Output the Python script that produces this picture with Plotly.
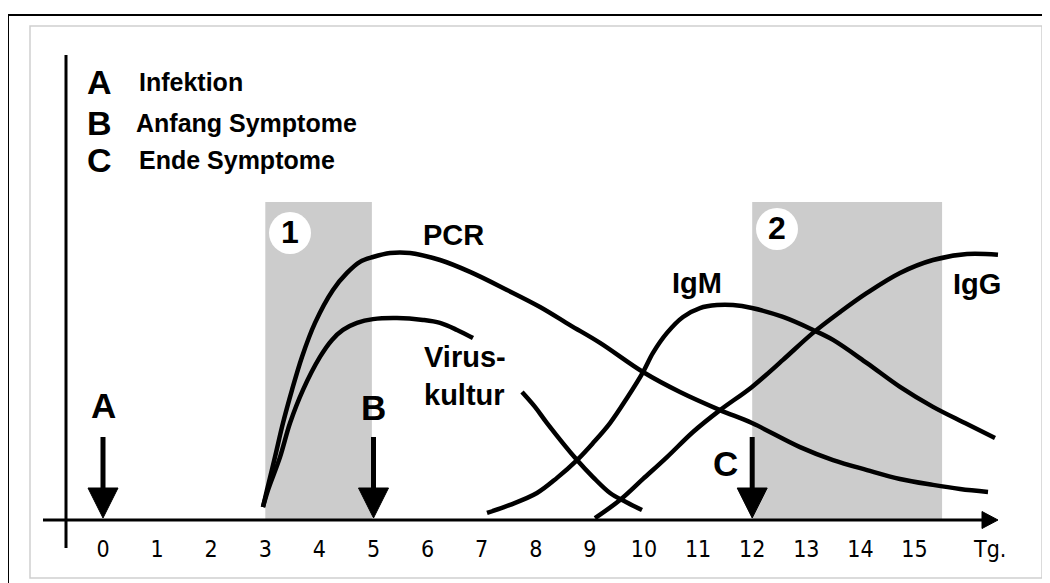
import plotly.graph_objects as go

# ---- data (days after infection vs. relative detectability) ----
days = list(range(16))
day_labels = [str(d) for d in days]
unit_label = "Tg."
unit_pos = 16.4

pcr_x = [2.957, 3.031, 3.179, 3.327, 3.494, 3.678, 3.919, 4.251, 4.51, 4.75, 4.991, 5.305, 5.675,
         6.229, 6.784, 7.468, 8.078, 8.632, 9.187, 9.982, 10.665, 11.405, 11.996, 12.884, 13.494,
         14.122, 14.732, 15.342, 15.841, 16.359]
pcr_y = [4.8, 11.1, 23.3, 35.9, 48.2, 60.4, 73.0, 85.2, 91.5, 95.6, 97.4, 98.9, 98.9,
         96.3, 91.9, 85.2, 78.9, 72.2, 65.6, 54.8, 47.4, 40.7, 35.9, 27.0, 22.2,
         18.5, 15.2, 13.0, 11.5, 10.4]

virus1_x = [2.957, 3.05, 3.272, 3.457, 3.697, 4.011, 4.233, 4.436, 4.695, 4.991, 5.434, 5.915,
            6.229, 6.543, 6.839]
virus1_y = [4.8, 11.1, 23.3, 35.9, 48.2, 60.4, 66.7, 70.4, 73.0, 74.4, 74.8, 74.1,
            73.0, 70.4, 67.4]
virus2_x = [7.745, 7.985, 8.207, 8.762, 9.057, 9.372, 9.667, 9.963]
virus2_y = [47.4, 41.9, 35.9, 22.2, 15.9, 10.0, 6.7, 3.7]

igm_x = [7.098, 7.523, 8.022, 8.392, 8.762, 9.057, 9.372, 9.686, 9.982, 10.166, 10.425, 10.721,
         11.035, 11.349, 11.645, 11.996, 12.569, 13.124, 13.494, 14.122, 14.732, 15.342, 15.933, 16.488]
igm_y = [2.6, 5.6, 10.0, 15.6, 22.2, 28.5, 35.9, 45.2, 54.8, 61.9, 69.3, 75.2,
         78.5, 79.6, 79.6, 78.5, 75.2, 70.4, 66.7, 58.1, 49.3, 41.9, 35.9, 30.4]

igg_x = [9.094, 9.556, 9.982, 10.425, 10.906, 11.405, 11.996, 12.569, 13.124, 13.623, 14.122,
         14.732, 15.342, 15.97, 16.543]
igg_y = [0.7, 7.4, 15.2, 23.3, 32.6, 40.7, 49.3, 59.3, 69.3, 77.0, 84.1,
         91.5, 96.3, 98.5, 98.2]

# shaded windows (diagnostic windows 1 and 2)
windows = [(3.0, 4.97, "1"), (12.0, 15.51, "2")]
window_top = 117.8

# event arrows
events = ["A", "B", "C"]
event_day = [0, 5, 12]
event_text = ["Infektion", "Anfang Symptome", "Ende Symptome"]

# ---- figure geometry (page is offset by the 8 px body margin) ----
W, H = 1042, 575
OFF = 8
SX = 54.1   # px per day
SY = 2.7    # px per unit
X0 = (OFF - 103) / SX
X1 = (OFF + W - 103) / SX
Y1 = (520 - OFF) / SY
Y0 = (520 - OFF - H) / SY
px_x = 1 / SX
px_y = 1 / SY


def page_x(px):
    return (px - 103) / SX


def page_y(py):
    return (520 - py) / SY


def paper_x(px):
    return (px - OFF) / W


def paper_y(py):
    return 1 - (py - OFF) / H


fig = go.Figure()
curve = dict(color="black", width=4.5, shape="spline", smoothing=1.0)
for xs, ys in [(pcr_x, pcr_y), (virus1_x, virus1_y), (virus2_x, virus2_y),
               (igm_x, igm_y), (igg_x, igg_y)]:
    fig.add_trace(go.Scatter(x=xs, y=ys, mode="lines", line=curve,
                             hoverinfo="skip", showlegend=False))

shapes = []
annotations = []
bold = "Liberation Sans, Arial, sans-serif"

# outer frame (black, top/left) and inner light frame
shapes.append(dict(type="rect", xref="paper", yref="paper",
                   x0=paper_x(8), x1=1.2, y0=-0.2, y1=paper_y(15),
                   line=dict(color="black", width=2), fillcolor="rgba(0,0,0,0)"))
shapes.append(dict(type="rect", xref="paper", yref="paper",
                   x0=paper_x(30), x1=paper_x(1042), y0=paper_y(578), y1=paper_y(26),
                   line=dict(color="#cfcfcf", width=1.5), fillcolor="rgba(0,0,0,0)"))

# shaded windows and numbered circles
for (a, b, lab), cx, cy in zip(windows, [page_x(290), page_x(777)], [page_y(233), page_y(229)]):
    shapes.append(dict(type="rect", xref="x", yref="y", x0=a, x1=b, y0=0, y1=window_top,
                       fillcolor="#cccccc", line=dict(width=0), layer="below"))
    rx, ry = 21 * px_x, 21 * px_y
    shapes.append(dict(type="circle", xref="x", yref="y", x0=cx - rx, x1=cx + rx,
                       y0=cy - ry, y1=cy + ry, fillcolor="white", line=dict(width=0),
                       layer="below"))
    annotations.append(dict(x=cx, y=cy + 0.5, xref="x", yref="y", text=lab, showarrow=False,
                            font=dict(family=bold, size=32, color="black", weight="bold")))

# axes drawn as lines with arrow
shapes.append(dict(type="line", xref="x", yref="y", x0=page_x(43), x1=page_x(985), y0=0, y1=0,
                   line=dict(color="black", width=3)))
tip = page_x(998)
base = page_x(982)
h = 8.5 * px_y
shapes.append(dict(type="path", xref="x", yref="y",
                   path=f"M {base},{h} L {tip},0 L {base},{-h} Z",
                   fillcolor="black", line=dict(color="black", width=1)))
yax_x = page_x(66)
shapes.append(dict(type="line", xref="x", yref="y", x0=yax_x, x1=yax_x,
                   y0=page_y(548), y1=page_y(55),
                   line=dict(color="black", width=3)))

# event arrows
hw = 15 * px_x
shaft_top = page_y(437)
head_base = page_y(488)
head_tip = page_y(518)
for ev, d in zip(events, event_day):
    shapes.append(dict(type="line", xref="x", yref="y", x0=d, x1=d, y0=shaft_top, y1=head_base,
                       line=dict(color="black", width=5)))
    shapes.append(dict(type="path", xref="x", yref="y",
                       path=f"M {d - hw},{head_base} L {d + hw},{head_base} L {d},{head_tip} Z",
                       fillcolor="black", line=dict(color="black", width=1)))

# event letters near arrows
ev_pos = [(0, page_y(405)), (5, page_y(407)), (page_x(725), page_y(463))]
for ev, (ex, ey) in zip(events, ev_pos):
    annotations.append(dict(x=ex, y=ey, xref="x", yref="y", text=ev, showarrow=False,
                            font=dict(family=bold, size=35, color="black", weight="bold")))

# key at top left
key_y = [page_y(82), page_y(123), page_y(160)]
key_tx = [page_x(137), page_x(134), page_x(137)]
for ev, txt, ky, kx in zip(events, event_text, key_y, key_tx):
    annotations.append(dict(x=page_x(99), y=ky, xref="x", yref="y", text=ev, showarrow=False,
                            font=dict(family=bold, size=34, color="black", weight="bold")))
    annotations.append(dict(x=kx, y=ky, xref="x", yref="y", text=txt, showarrow=False,
                            xanchor="left",
                            font=dict(family=bold, size=25, color="black", weight="bold")))

# curve labels
labels = [("PCR", page_x(453), page_y(235), "center"), ("IgM", page_x(697), page_y(283), "center"),
          ("IgG", page_x(977), page_y(284), "center"), ("Virus-<br>kultur", page_x(422), page_y(376), "left")]
for t, lx, ly, xa in labels:
    annotations.append(dict(x=lx, y=ly, xref="x", yref="y", text=t, showarrow=False,
                            xanchor=xa, align="left",
                            font=dict(family=bold, size=29, color="black", weight="bold")))

fig.update_layout(
    width=W, height=H,
    margin=dict(l=0, r=0, t=0, b=0),
    paper_bgcolor="white", plot_bgcolor="white",
    showlegend=False,
    shapes=shapes, annotations=annotations,
    xaxis=dict(range=[X0, X1], anchor="free", position=(583 - 520) / H,
               tickvals=days + [unit_pos], ticktext=day_labels + [unit_label],
               ticks="outside", ticklen=8, tickcolor="rgba(0,0,0,0)",
               showgrid=False, zeroline=False, showline=False, fixedrange=True,
               tickfont=dict(family="Liberation Sans Narrow, DejaVu Sans Condensed, Arial Narrow, sans-serif",
                             size=23, color="black")),
    yaxis=dict(range=[Y0, Y1], visible=False, fixedrange=True),
)

fig.write_html("out.html")
